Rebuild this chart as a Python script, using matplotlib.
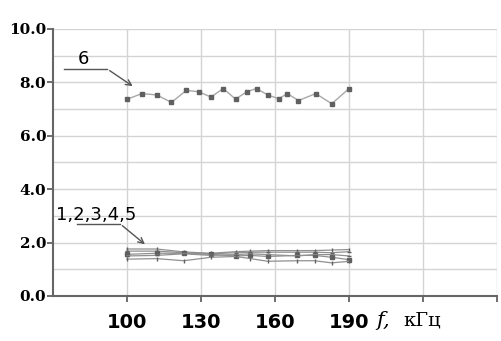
import matplotlib
matplotlib.use("Agg")
import matplotlib.pyplot as plt

# Curve 6 (upper)
f6 = [100, 106, 112, 118, 124, 129, 134, 139, 144, 148.5, 152.5, 157, 161.5, 165, 169.5, 176.5, 183, 190]
y6 = [7.37, 7.58, 7.53, 7.25, 7.70, 7.65, 7.45, 7.77, 7.37, 7.65, 7.77, 7.53, 7.39, 7.58, 7.32, 7.58, 7.20, 7.77]

# Curves 1..5 (lower bundle)
f_low = [100, 112, 123, 134, 144, 150, 157, 169, 176, 183, 190]
y1 = [1.76, 1.76, 1.65, 1.60, 1.66, 1.68, 1.70, 1.70, 1.70, 1.72, 1.74]
y2 = [1.68, 1.68, 1.62, 1.58, 1.62, 1.64, 1.64, 1.64, 1.64, 1.62, 1.66]
y3 = [1.56, 1.60, 1.60, 1.56, 1.50, 1.52, 1.48, 1.52, 1.52, 1.45, 1.36]
y4 = [1.50, 1.52, 1.58, 1.52, 1.55, 1.58, 1.55, 1.50, 1.55, 1.55, 1.50]
y5 = [1.38, 1.40, 1.32, 1.45, 1.48, 1.40, 1.30, 1.32, 1.32, 1.24, 1.30]
low_series = [y1, y2, y3, y4, y5]
low_markers = ['|', '_', 's', '_', '|']

xticks = [100, 130, 160, 190, 220, 250]
xlabels = ['100', '130', '160', '190', '', '']
yticks = [0, 2, 4, 6, 8, 10]
ylabels = ['0.0', '2.0', '4.0', '6.0', '8.0', '10.0']

fig = plt.figure(figsize=(5.01, 3.41), dpi=100)
ax = fig.add_axes([0.106, 0.132, 0.886, 0.783])

ax.plot(f6, y6, color='#a8a8a8', lw=1.0, marker='s', ms=3.0,
        mfc='#606060', mec='#606060', zorder=3)

for ys, mk in zip(low_series, low_markers):
    ax.plot(f_low, ys, color='#909090', lw=0.9, marker=mk, ms=3,
            mfc='#606060', mec='#606060', zorder=3)

ax.set_xlim(70, 250)
ax.set_ylim(0, 10)
ax.set_xticks(xticks)
ax.set_xticklabels(xlabels, fontfamily='DejaVu Sans', fontweight='bold', fontsize=14)
ax.set_yticks(yticks)
ax.set_yticklabels(ylabels, fontfamily='DejaVu Serif', fontweight='bold', fontsize=11)
ax.set_yticks([1, 3, 5, 7, 9], minor=True)
ax.tick_params(axis='y', which='major', length=4, width=1.2, color='#555555', pad=1)
ax.tick_params(axis='y', which='minor', length=0)
ax.tick_params(axis='x', which='major', length=4, width=1.2, color='#555555', pad=8)

ax.grid(True, which='both', color='#d4d4d4', lw=1.0, zorder=0)
ax.set_axisbelow(True)
for s in ['top', 'right']:
    ax.spines[s].set_visible(False)
for s in ['left', 'bottom']:
    ax.spines[s].set_color('#666666')
    ax.spines[s].set_linewidth(1.5)

# leader for curve 6
ax.plot([74.5, 92], [8.5, 8.5], color='#555555', lw=1.0, clip_on=False)
ax.annotate('', xy=(103.2, 7.8), xytext=(92, 8.5),
            arrowprops=dict(arrowstyle='->', color='#555555', lw=1.0))
ax.text(82.5, 8.55, '6', fontsize=13, fontfamily='DejaVu Sans', va='bottom', ha='center')

# leader for curves 1..5
ax.plot([79.7, 97.2], [2.70, 2.70], color='#555555', lw=1.0)
ax.annotate('', xy=(108.1, 1.87), xytext=(97.2, 2.70),
            arrowprops=dict(arrowstyle='->', color='#555555', lw=1.0))
ax.text(71, 2.68, '1,2,3,4,5', fontsize=13, fontfamily='DejaVu Sans', va='bottom', ha='left')

fig.text(0.752, 0.045, 'f,', fontsize=15, fontfamily='DejaVu Serif', fontstyle='italic',
         ha='left', va='baseline')
fig.text(0.805, 0.045, 'кГц', fontsize=14, fontfamily='DejaVu Serif', ha='left', va='baseline')

fig.savefig('out.png', dpi=100)
